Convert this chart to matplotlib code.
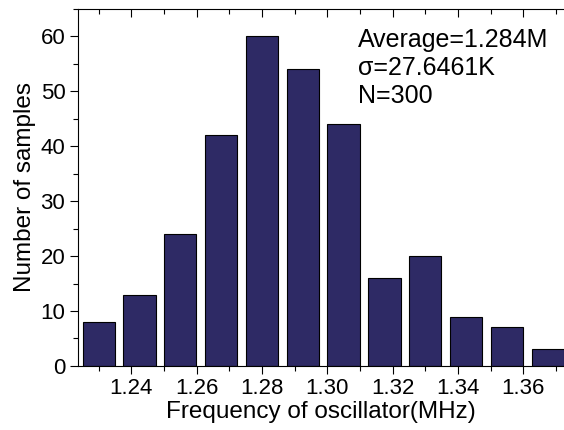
import matplotlib.pyplot as plt
from matplotlib.ticker import MultipleLocator
import numpy as np

plt.rcParams['font.family'] = ['Liberation Sans', 'DejaVu Sans']

# histogram bins (MHz) and counts
bin_start = 1.23
bin_step = 0.0125
counts = [8, 13, 24, 42, 60, 54, 44, 16, 20, 9, 7, 3]
centers = bin_start + bin_step * np.arange(len(counts))

stats_text = ["Average=1.284M", "σ=27.6461K", "N=300"]

fig = plt.figure(figsize=(5.64, 4.30), dpi=100)
ax = fig.add_axes([0.138, 0.149, 0.862, 0.830])

ax.bar(centers, counts, width=bin_step * 0.79, color='#2e2a65',
       edgecolor='black', linewidth=0.8)

ax.set_xlim(1.2236, 1.3725)
ax.set_ylim(0, 65)
ax.xaxis.set_major_locator(MultipleLocator(0.02))
ax.xaxis.set_minor_locator(MultipleLocator(0.01))
ax.yaxis.set_major_locator(MultipleLocator(10))
ax.yaxis.set_minor_locator(MultipleLocator(5))
ax.xaxis.set_major_formatter(plt.FormatStrFormatter('%.2f'))

ax.tick_params(axis='both', which='major', labelsize=16, length=6, width=0.8, direction='out', pad=3)
ax.tick_params(axis='both', which='minor', length=3.5, width=0.8, direction='out')
ax.tick_params(axis='x', which='both', top=True)
ax.spines['right'].set_visible(False)
for s in ['left', 'bottom', 'top']:
    ax.spines[s].set_linewidth(0.8)
# top ticks point inward
for t in ax.xaxis.get_major_ticks() + ax.xaxis.get_minor_ticks():
    t.tick2line.set_marker(3)

ax.set_xlabel('Frequency of oscillator(MHz)', fontsize=17.5, labelpad=1)
ax.set_ylabel('Number of samples', fontsize=17.5, labelpad=3)

for i, line in enumerate(stats_text):
    ax.text(0.577, 0.894 - i * 0.0785, line, transform=ax.transAxes,
            fontsize=18, va='baseline', ha='left')

fig.savefig('out.png', dpi=100)
